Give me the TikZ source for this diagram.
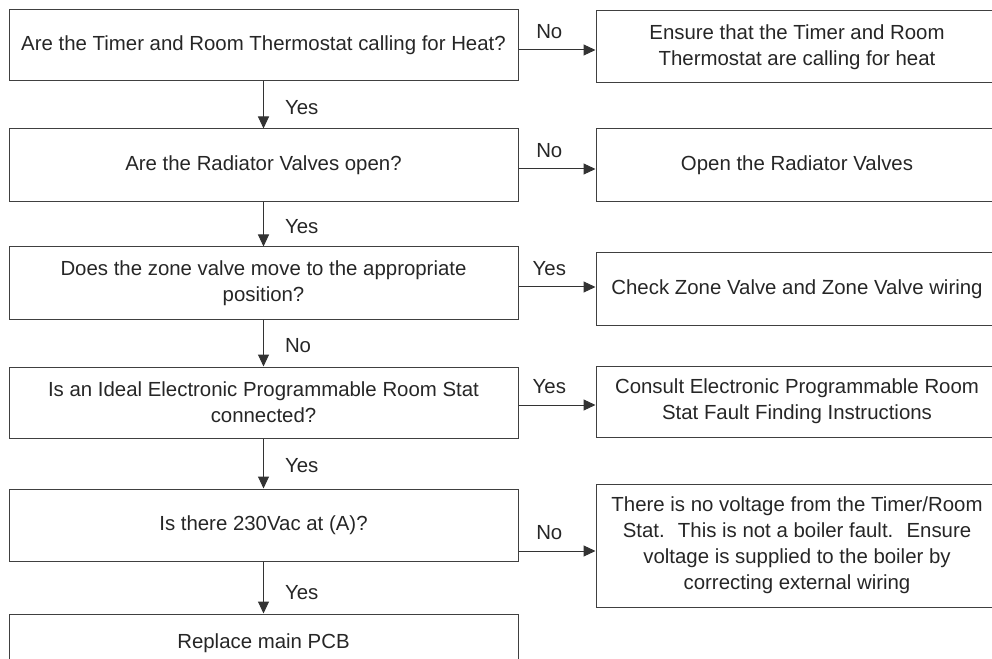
\documentclass[tikz,border=0pt]{standalone}
\usepackage{fontspec}
\setmainfont{Liberation Sans}
\usetikzlibrary{positioning, arrows.meta, calc}

\begin{document}
\begin{tikzpicture}[
  x=0.75pt, y=-0.75pt,
  every node/.append style={font=\fontsize{15.3}{19.5}\selectfont, text=black!85},
  qbox/.style={draw=black!75, line width=0.75pt, minimum width=381.75pt, align=center, inner sep=0pt},
  abox/.style={draw=black!75, line width=0.75pt, minimum width=301.5pt, align=center, inner sep=0pt},
  arr/.style={draw=black!80, line width=0.75pt, -{Triangle[length=9pt, width=8.25pt]}},
  lbl/.style={inner sep=0pt},
]
\useasboundingbox (0,0) rectangle (992,659);

% Questions (left column)
\node[qbox, minimum height=53.25pt] (q1) at (263.5,45.5) {Are the Timer and Room Thermostat calling for Heat?};
\node[qbox, minimum height=54.75pt] (q2) at (263.5,165.5) {Are the Radiator Valves open?};
\node[qbox, minimum height=54pt] (q3) at (263.5,283) {Does the zone valve move to the appropriate\\position?};
\node[qbox, minimum height=53.25pt] (q4) at (263.5,402.5) {Is an Ideal Electronic Programmable Room Stat\\connected?};
\node[qbox, minimum height=54pt] (q5) at (263.5,525) {Is there 230Vac at (A)?};
\node[qbox, minimum height=43.5pt] (q6) at (263.5,643) {Replace main PCB};

% Actions (right column)
\node[abox, minimum height=54pt] (a1) at (797,47) {Ensure that the Timer and Room\\Thermostat are calling for heat};
\node[abox, minimum height=54.75pt] (a2) at (797,165.5) {Open the Radiator Valves};
\node[abox, minimum height=54pt] (a3) at (797,289) {Check Zone Valve and Zone Valve wiring};
\node[abox, minimum height=53.25pt] (a4) at (797,401.5) {Consult Electronic Programmable Room\\Stat Fault Finding Instructions};
\node[abox, minimum height=92.25pt] (a5) at (797,545.5) {There is no voltage from the Timer/Room\\Stat.~ This is not a boiler fault.~ Ensure\\voltage is supplied to the boiler by\\correcting external wiring};

% heights of the side arrows
\coordinate (h1) at (557,50);
\coordinate (h2) at (557,169);
\coordinate (h3) at (557,287);
\coordinate (h4) at (557,405);
\coordinate (h5) at (557,551);

% down the left column
\draw[arr] (q1) -- (q2) node[lbl, pos=0.55, right=15.75pt] {Yes};
\draw[arr] (q2) -- (q3) node[lbl, pos=0.55, right=15.75pt] {Yes};
\draw[arr] (q3) -- (q4) node[lbl, pos=0.55, right=15.75pt] {No};
\draw[arr] (q4) -- (q5) node[lbl, pos=0.55, right=15.75pt] {Yes};
\draw[arr] (q5) -- (q6) node[lbl, pos=0.6, right=15.75pt] {Yes};

% across to the actions
\draw[arr] (q1.east |- h1) -- (a1.west |- h1) node[lbl, pos=0.4, above=8pt] {No};
\draw[arr] (q2.east |- h2) -- (a2.west |- h2) node[lbl, pos=0.4, above=8pt] {No};
\draw[arr] (q3.east |- h3) -- (a3.west |- h3) node[lbl, pos=0.4, above=8pt] {Yes};
\draw[arr] (q4.east |- h4) -- (a4.west |- h4) node[lbl, pos=0.4, above=8pt] {Yes};
\draw[arr] (q5.east |- h5) -- (a5.west |- h5) node[lbl, pos=0.4, above=8pt] {No};

\end{tikzpicture}
\end{document}
